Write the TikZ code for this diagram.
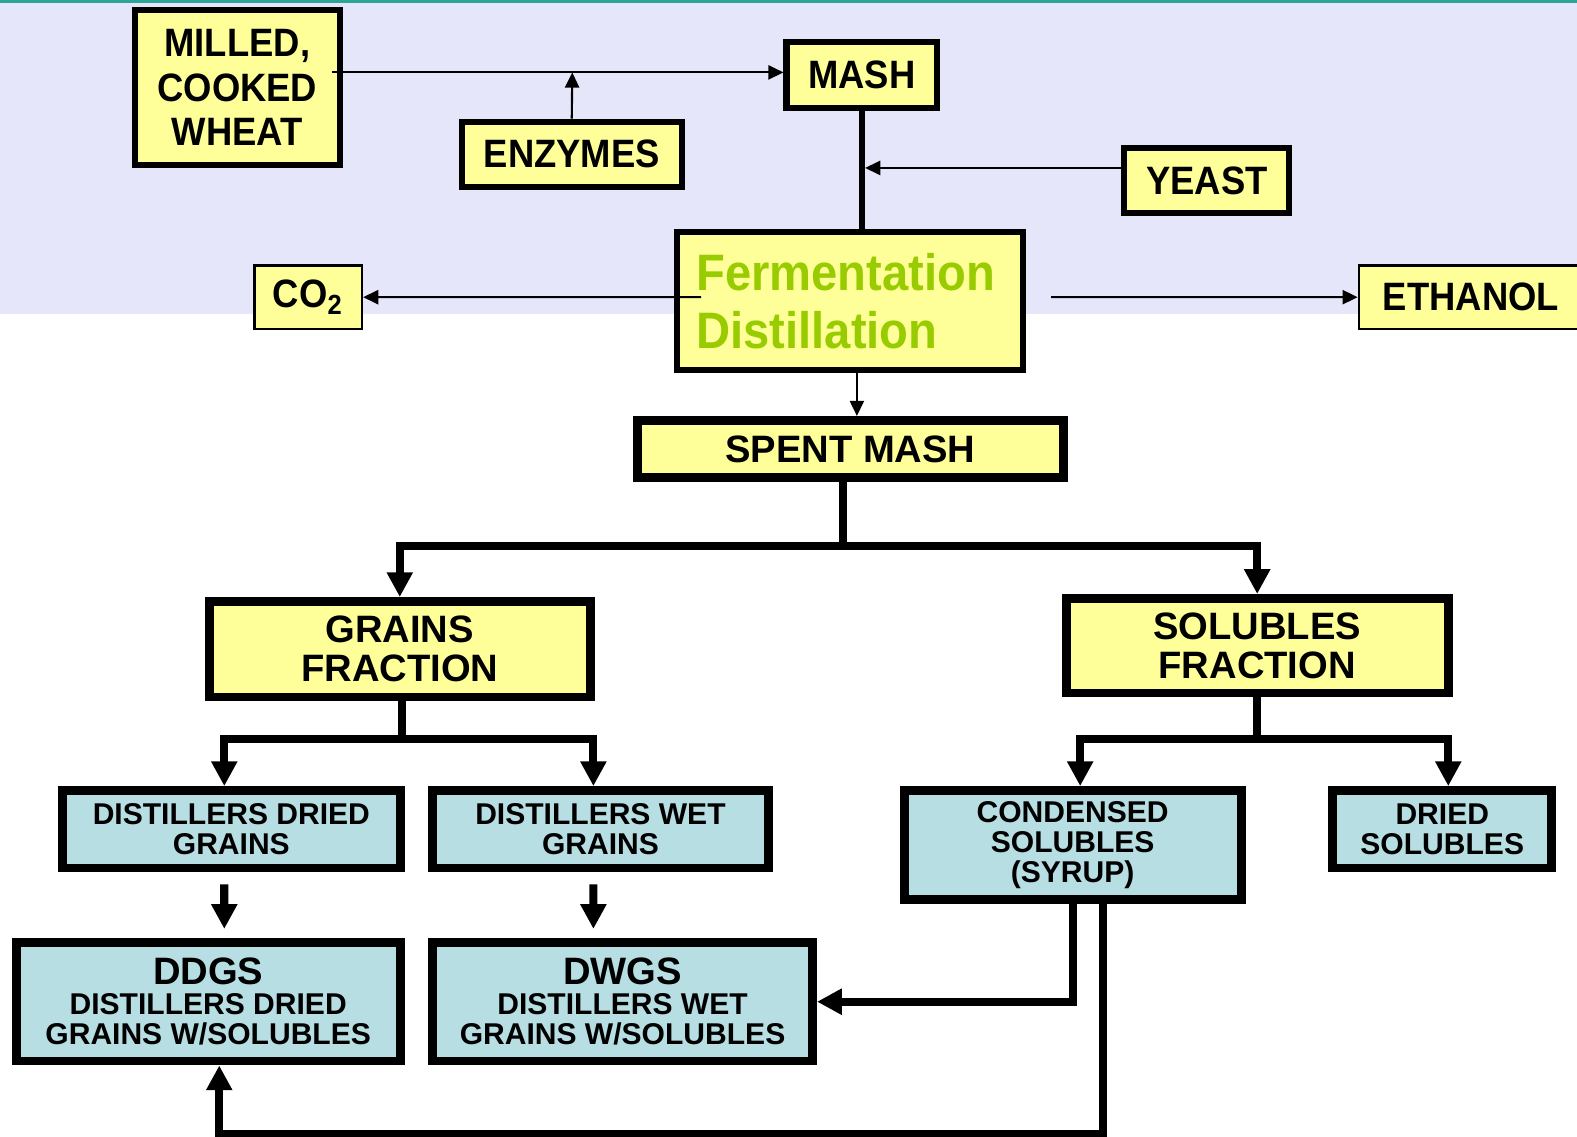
\documentclass[tikz,border=0pt]{standalone}
\usepackage{fontspec}
\setmainfont{Liberation Sans}
\newfontfamily\upfont[FakeStretch=0.92]{Liberation Sans}
\usetikzlibrary{arrows.meta}

\definecolor{boxyellow}{HTML}{FFFF99}
\definecolor{boxblue}{HTML}{B7DEE2}
\definecolor{bglav}{HTML}{E6E6FA}
\definecolor{topteal}{HTML}{2BA595}
\definecolor{fermgreen}{HTML}{99CC00}

\tikzset{
  upbox/.style={draw, line width=1.7pt, fill=boxyellow, inner sep=0pt, align=center,
    font=\upfont\bfseries\fontsize{11.2}{12.5}\selectfont},
  sidebox/.style={upbox, line width=0.6pt},
  fracbox/.style={draw, line width=2.5pt, fill=boxyellow, inner sep=0pt, align=center,
    font=\bfseries\fontsize{10.8}{11.1}\selectfont},
  prodbox/.style={fracbox, fill=boxblue, font=\bfseries\fontsize{8.5}{8.5}\selectfont},
  thinarr/.style={line width=0.6pt, -{Triangle[length=4.3pt,width=4pt]}},
  thickline/.style={line width=2.3pt},
  thickarr/.style={thickline, -{Triangle[length=7pt,width=7pt]}},
}

\begin{document}
\begin{tikzpicture}
\useasboundingbox (0,0) rectangle (15.68,-11.30);
\fill[bglav] (0,-0.03) rectangle (15.68,-3.12);
\fill[topteal] (0,0) rectangle (15.68,-0.03);

% mashing and fermentation
\node[upbox, minimum width=2.04cm, minimum height=1.54cm] (wheat) at (2.36,-0.87) {MILLED,\\COOKED\\WHEAT};
\node[upbox, minimum width=2.19cm, minimum height=0.65cm] (enz) at (5.685,-1.535) {ENZYMES};
\node[upbox, minimum width=1.50cm, minimum height=0.65cm] (mash) at (8.57,-0.745) {MASH};
\node[upbox, minimum width=1.64cm, minimum height=0.65cm] (yeast) at (12.00,-1.795) {YEAST};
\node[upbox, text width=3.05cm, inner xsep=0.195cm, minimum height=1.37cm, align=left,
  text=fermgreen, font=\upfont\bfseries\fontsize{14.5}{16.5}\selectfont] (ferm) at (8.45,-2.995) {Fermentation\\Distillation};
\node[sidebox, minimum width=1.07cm, minimum height=0.63cm] (co2) at (3.065,-2.955) {CO\textsubscript{2}};
\node[sidebox, minimum width=2.23cm, minimum height=0.63cm] (eth) at (14.625,-2.955) {ETHANOL};

% spent mash and fractions
\node[fracbox, minimum width=4.23cm, minimum height=0.57cm] (spent) at (8.455,-4.465) {SPENT MASH};
\node[fracbox, minimum width=3.79cm, minimum height=0.95cm] (grains) at (3.975,-6.455) {GRAINS\\FRACTION};
\node[fracbox, minimum width=3.80cm, minimum height=0.94cm] (solub) at (12.50,-6.42) {SOLUBLES\\FRACTION};

\node[prodbox, minimum width=3.36cm, minimum height=0.77cm] (ddg) at (2.30,-8.245) {DISTILLERS DRIED\\GRAINS};
\node[prodbox, minimum width=3.34cm, minimum height=0.77cm] (dwg) at (5.97,-8.245) {DISTILLERS WET\\GRAINS};
\node[prodbox, minimum width=3.35cm, minimum height=1.08cm] (cond) at (10.665,-8.40) {CONDENSED\\SOLUBLES\\(SYRUP)};
\node[prodbox, minimum width=2.18cm, minimum height=0.77cm] (dsol) at (14.34,-8.245) {DRIED\\SOLUBLES};
\node[prodbox, minimum width=3.82cm, minimum height=1.18cm] (ddgs) at (2.07,-9.96)
  {{\fontsize{10.8}{11}\selectfont DDGS}\\DISTILLERS DRIED\\GRAINS W/SOLUBLES};
\node[prodbox, minimum width=3.78cm, minimum height=1.18cm] (dwgs) at (6.19,-9.96)
  {{\fontsize{10.8}{11}\selectfont DWGS}\\DISTILLERS WET\\GRAINS W/SOLUBLES};

\coordinate (j1) at (5.69,-0.72);
\coordinate (j2) at (8.57,-1.67);
\draw[thinarr] ([xshift=-0.11cm,yshift=0.15cm]wheat.east) -- (mash.west |- j1);
\draw[thinarr] (enz.north) -- (j1);
\draw[line width=1.7pt] (mash.south) -- (mash.south |- ferm.north);
\draw[thinarr, shorten >=0.9pt] (yeast.west |- j2) -- (j2);
\draw[thinarr] ([xshift=0.27cm,yshift=0.04cm]ferm.west) -- (co2.east);
\draw[thinarr] ([xshift=0.25cm,yshift=0.04cm]ferm.east) -- (eth.west);
\draw[thinarr] ([xshift=0.07cm,yshift=0.05cm]ferm.south) -- ([xshift=0.065cm]spent.north);

\coordinate (sp) at (8.38,-5.43);
\coordinate (gj) at (4.00,-7.35);
\coordinate (sj) at (12.50,-7.35);
\coordinate (lp) at (10.97,-11.28);

\draw[thickline] (spent.south -| sp) -- (sp);
\draw[thickarr] (sp) -| (grains.north);
\draw[thickarr] (sp) -| (solub.north);

\draw[thickline] (grains.south -| gj) -- (gj);
\draw[thickarr] (gj) -| ([xshift=-0.07cm]ddg.north);
\draw[thickarr] (gj) -| ([xshift=-0.07cm]dwg.north);
\draw[thickline] (solub.south) -- (sj);
\draw[thickarr] (sj) -| ([xshift=0.075cm]cond.north);
\draw[thickarr] (sj) -| ([xshift=0.06cm]dsol.north);

\draw[thickarr, shorten <=0.12cm, shorten >=0.09cm] ([xshift=-0.07cm]ddg.south) -- ([xshift=0.16cm]ddgs.north);
\draw[thickarr, shorten <=0.12cm, shorten >=0.09cm] ([xshift=-0.07cm]dwg.south) -- ([xshift=-0.29cm]dwgs.north);
\draw[thickarr] (cond.south) |- (dwgs.east);
\draw[thickarr] (cond.south -| lp) -- (lp) -| ([xshift=0.11cm]ddgs.south);
\end{tikzpicture}
\end{document}
